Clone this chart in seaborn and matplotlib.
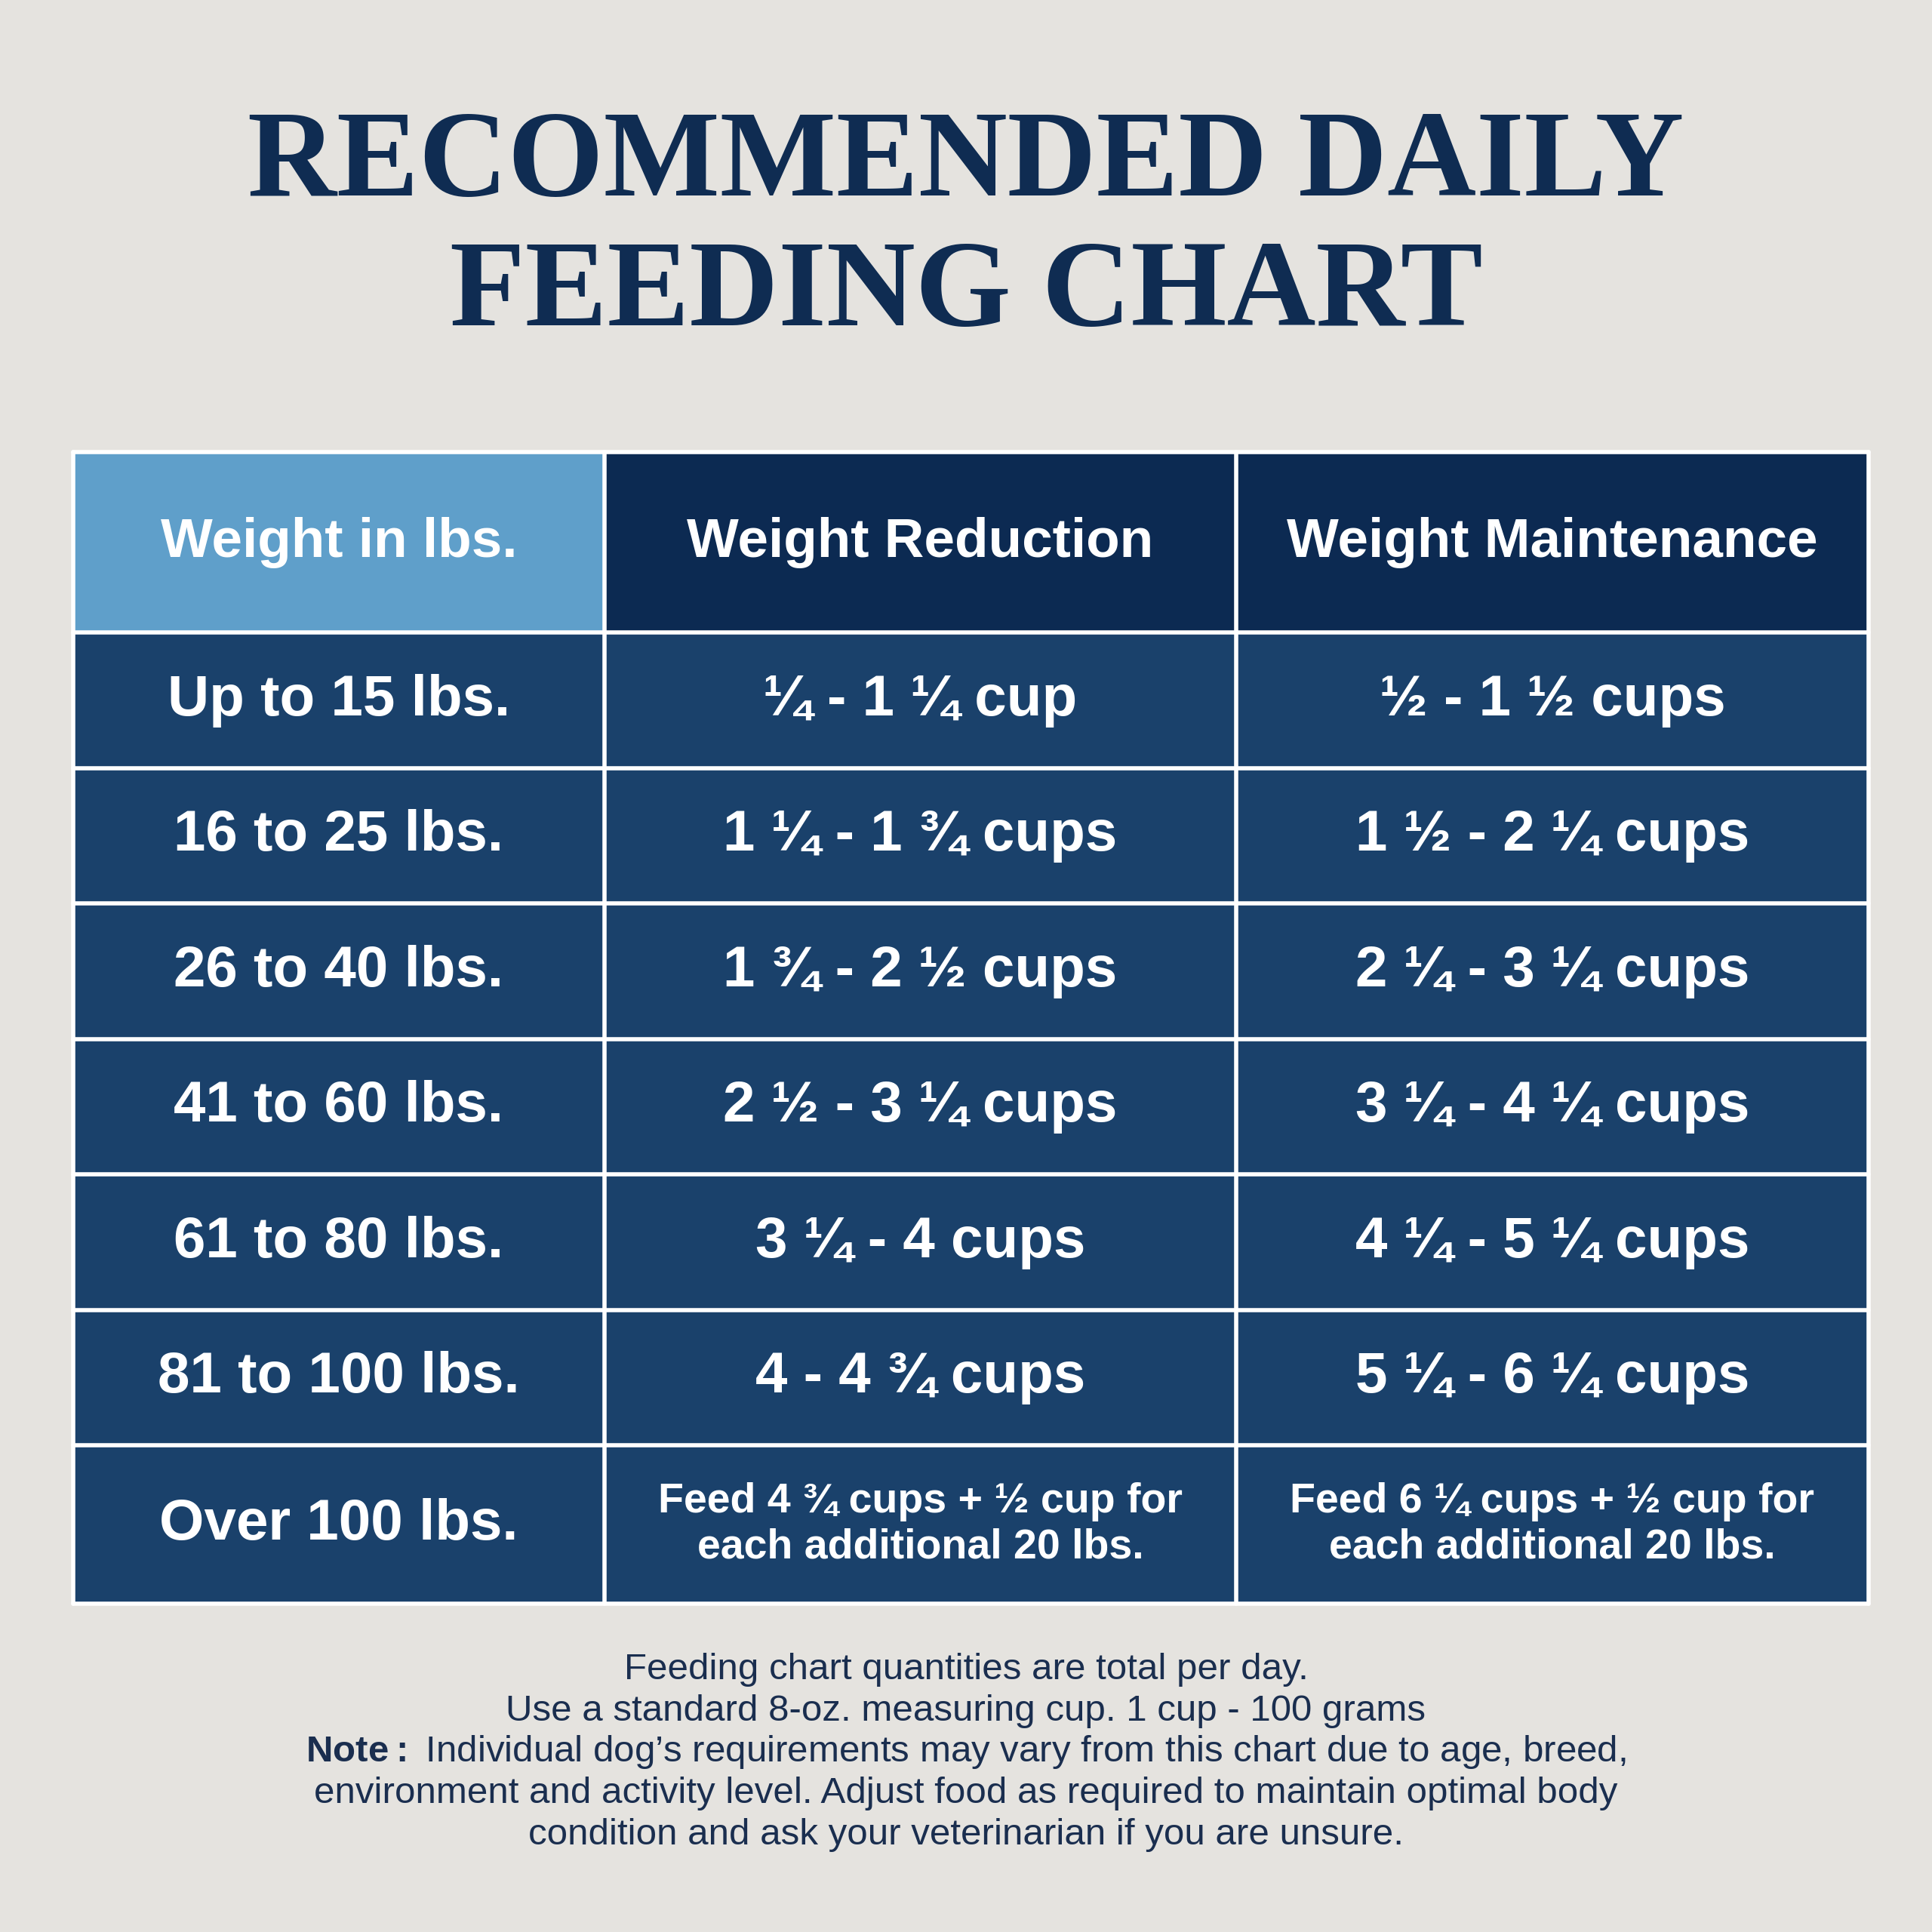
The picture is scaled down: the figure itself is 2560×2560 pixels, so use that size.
import numpy as np
import matplotlib
matplotlib.use("Agg")
import matplotlib.pyplot as plt
import seaborn as sns

headers = ["Weight in lbs.", "Weight Reduction", "Weight Maintenance"]
weights = ["Up to 15 lbs.", "16 to 25 lbs.", "26 to 40 lbs.", "41 to 60 lbs.",
           "61 to 80 lbs.", "81 to 100 lbs.", "Over 100 lbs."]
reduction = ["¼ - 1 ¼ cup", "1 ¼ - 1 ¾ cups", "1 ¾ - 2 ½ cups", "2 ½ - 3 ¼ cups",
             "3 ¼ - 4 cups", "4 - 4 ¾ cups",
             "Feed 4 ¾ cups + ½ cup for\neach additional 20 lbs."]
maintenance = ["½ - 1 ½ cups", "1 ½ - 2 ¼ cups", "2 ¼ - 3 ¼ cups", "3 ¼ - 4 ¼ cups",
               "4 ¼ - 5 ¼ cups", "5 ¼ - 6 ¼ cups",
               "Feed 6 ¼ cups + ½ cup for\neach additional 20 lbs."]
footer = ["Feeding chart quantities are total per day.",
          "Use a standard 8-oz. measuring cup. 1 cup - 100 grams",
          "$\\bf{Note:}$ Individual dog’s requirements may vary from this chart due to age, breed,",
          "environment and activity level. Adjust food as required to maintain optimal body",
          "condition and ask your veterinarian if you are unsure."]

col_units = [21, 25, 25]
row_units = [8] + [6] * 6 + [7]

sns.set_theme(style="white")
plt.rcParams['font.family'] = ['Liberation Sans', 'DejaVu Sans']
plt.rcParams['mathtext.fontset'] = 'custom'
plt.rcParams['mathtext.bf'] = 'Liberation Sans:bold'
plt.rcParams['mathtext.rm'] = 'Liberation Sans'

BG = "#e5e3df"
NAVY = "#0f2c52"
fig = plt.figure(figsize=(10.24, 10.24), dpi=250, facecolor=BG)

H, W = sum(row_units), sum(col_units)
grid = np.full((H, W), 2)
grid[:row_units[0], :col_units[0]] = 0
grid[:row_units[0], col_units[0]:] = 1

ax = fig.add_axes([0.038, 0.170, 0.929, 0.596])
sns.heatmap(grid, ax=ax, cmap=matplotlib.colors.ListedColormap(["#5f9fca", "#0c2a52", "#1a416b"]),
            vmin=-0.5, vmax=2.5, cbar=False, linewidths=0, xticklabels=False, yticklabels=False)
ax.set_xlim(0, W); ax.set_ylim(H, 0)
xb = np.cumsum([0] + col_units); yb = np.cumsum([0] + row_units)
for x in xb:
    ax.plot([x, x], [0, H], color="white", lw=1.6, clip_on=False)
for y in yb:
    ax.plot([0, W], [y, y], color="white", lw=1.6, clip_on=False)

xc = (xb[:-1] + xb[1:]) / 2; yc = (yb[:-1] + yb[1:]) / 2
for j, h in enumerate(headers):
    ax.text(xc[j], yc[0], h, color="white", fontsize=21, fontweight="bold", ha="center", va="center")
for i in range(7):
    last = i == 6
    vals = [weights[i], reduction[i], maintenance[i]]
    for j, v in enumerate(vals):
        fs = 16 if (last and j > 0) else 22
        ax.text(xc[j], yc[i + 1], v, color="white", fontsize=fs, fontweight="bold",
                ha="center", va="center", linespacing=1.2)

fig.text(0.5, 0.914, "RECOMMENDED DAILY", ha="center", va="center", fontsize=47,
         fontweight="bold", color=NAVY, family=["Liberation Serif", "DejaVu Serif"])
fig.text(0.5, 0.847, "FEEDING CHART", ha="center", va="center", fontsize=47,
         fontweight="bold", color=NAVY, family=["Liberation Serif", "DejaVu Serif"])

for k, line in enumerate(footer):
    fig.text(0.5, 1 - 1355 / 1568 - k * 0.0214, line, ha="center", va="center",
             fontsize=14.2, color="#1a2e4f")

fig.savefig("out.png", dpi=250, facecolor=BG)
